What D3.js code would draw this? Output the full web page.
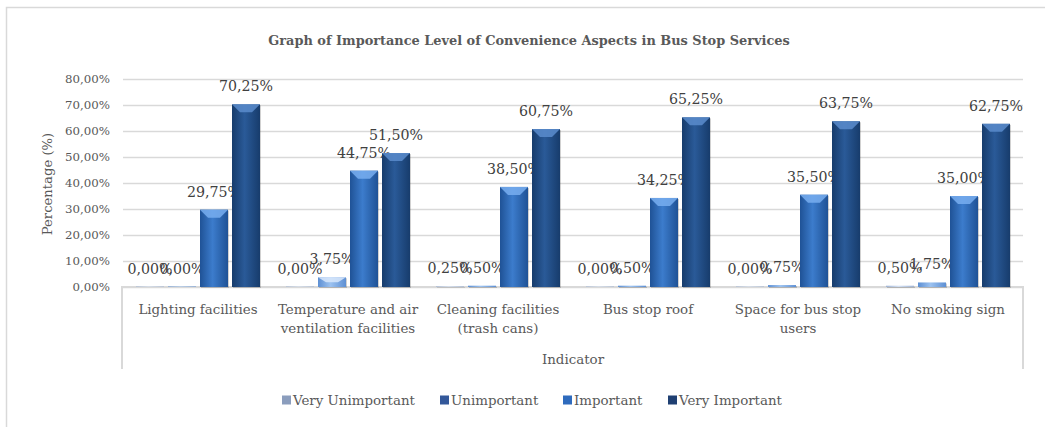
<!DOCTYPE html>
<html>
<head>
<meta charset="utf-8">
<script src="https://cdn.jsdelivr.net/npm/d3@7"></script>
<style>
    body { margin: 0; background: #fff; }
    svg { display: block; font-family: "DejaVu Serif", serif; }
</style>
</head>
<body>
<svg width="1045" height="427"></svg>
<script>
"use strict";

var title = "Graph of Importance Level of Convenience Aspects in Bus Stop Services";
var categories = [
    ["Lighting facilities"],
    ["Temperature and air", "ventilation facilities"],
    ["Cleaning facilities", "(trash cans)"],
    ["Bus stop roof"],
    ["Space for bus stop", "users"],
    ["No smoking sign"]
];
var seriesNames = ["Very Unimportant", "Unimportant", "Important", "Very Important"];
var veryUnimportant = [0.00, 0.00, 0.25, 0.00, 0.00, 0.50];
var unimportant = [0.00, 3.75, 0.50, 0.50, 0.75, 1.75];
var important = [29.75, 44.75, 38.50, 34.25, 35.50, 35.00];
var veryImportant = [70.25, 51.50, 60.75, 65.25, 63.75, 62.75];
var yTicks = [0, 10, 20, 30, 40, 50, 60, 70, 80];

var seriesValues = [veryUnimportant, unimportant, important, veryImportant];
// edge, centre, top bevel
var palette = [
    ["#9fb3d4", "#d3e0f3", "#eef3fb"],
    ["#5d8fd3", "#9cc2f0", "#d8e8fb"],
    ["#1f5296", "#3c7ccc", "#78aef0"],
    ["#173c6c", "#2a5a98", "#5a8ccc"]
];
var legendColors = ["#8b9dbd", "#33589a", "#2f6bbd", "#1f3f72"];

var svg = d3.select("svg");
var margin = {left: 123, right: 22, top: 79, bottom: 140};
var plotW = 1045 - margin.left - margin.right;
var baseY = 287;

var fmt = function (v) {
    return v.toFixed(2).replace(".", ",") + "%";
};

var x0 = d3.scaleBand()
    .domain(d3.range(categories.length))
    .range([margin.left, margin.left + plotW])
    .paddingInner(22 / 150)
    .paddingOuter(11 / 150);
var x1 = d3.scaleBand()
    .domain(d3.range(seriesNames.length))
    .range([0, x0.bandwidth()])
    .paddingInner(0.125)
    .paddingOuter(0.0625);
var y = d3.scaleLinear()
    .domain([0, 80])
    .range([baseY, margin.top]);

// outer chart border (cut off on the right and bottom)
svg.append("path")
    .attr("d", "M6.5,440V7.5H1060")
    .attr("fill", "none")
    .attr("stroke", "#d9d9d9")
    .attr("stroke-width", 1.5);

svg.append("text")
    .attr("x", 529)
    .attr("y", 45)
    .attr("text-anchor", "middle")
    .attr("font-size", 12.9)
    .attr("font-weight", "bold")
    .attr("fill", "#595959")
    .text(title);

// gradients
var defs = svg.append("defs");
palette.forEach(function (p, i) {
    var g = defs.append("linearGradient")
        .attr("id", "grad" + i)
        .attr("x1", "0").attr("x2", "1").attr("y1", "0").attr("y2", "0");
    g.append("stop").attr("offset", "0%").attr("stop-color", p[0]);
    g.append("stop").attr("offset", "45%").attr("stop-color", p[1]);
    g.append("stop").attr("offset", "100%").attr("stop-color", p[0]);
});

// y axis with grid
var yAxis = d3.axisLeft(y)
    .tickValues(yTicks)
    .tickSize(-plotW)
    .tickPadding(13)
    .tickFormat(fmt);
var yAxisGroup = svg.append("g")
    .attr("transform", "translate(" + margin.left + ",0)")
    .call(yAxis);
yAxisGroup.select(".domain").remove();
yAxisGroup.selectAll(".tick line")
    .attr("stroke", "#d9d9d9")
    .attr("stroke-width", 1.5);
yAxisGroup.selectAll(".tick text")
    .attr("fill", "#595959")
    .attr("font-size", 11.8)
    .attr("font-family", "DejaVu Serif, serif");

svg.append("text")
    .attr("transform", "translate(52," + 184 + ") rotate(-90)")
    .attr("text-anchor", "middle")
    .attr("font-size", 13.2)
    .attr("fill", "#595959")
    .text("Percentage (%)");

// category frame
svg.append("path")
    .attr("d", "M" + (margin.left - 1) + ",369V" + baseY + "H" +
            (margin.left + plotW) + "V369")
    .attr("fill", "none")
    .attr("stroke", "#d9d9d9")
    .attr("stroke-width", 2);

// bars
var groups = svg.append("g")
    .selectAll("g")
    .data(categories)
    .join("g")
    .attr("transform", function (ignore, i) {
        return "translate(" + x0(i) + ",0)";
    });

var barData = function (ignore, ci) {
    return seriesValues.map(function (vals, si) {
        return {s: si, v: vals[ci]};
    });
};

var bars = groups.selectAll("g.bar")
    .data(barData)
    .join("g")
    .attr("class", "bar");

bars.filter(function (d) { return d.v > 0; })
    .append("rect")
    .attr("x", function (d) { return x1(d.s) + 1; })
    .attr("y", function (d) { return y(d.v) + 1; })
    .attr("width", x1.bandwidth())
    .attr("height", function (d) { return baseY - y(d.v); })
    .attr("fill", "rgba(0,0,0,0.18)");

bars.append("rect")
    .attr("x", function (d) { return x1(d.s); })
    .attr("y", function (d) { return y(d.v) - (d.v > 0 ? 0 : 0.5); })
    .attr("width", x1.bandwidth())
    .attr("height", function (d) { return Math.max(baseY - y(d.v), 0.5); })
    .attr("fill", function (d) { return "url(#grad" + d.s + ")"; });

bars.filter(function (d) { return baseY - y(d.v) > 6; })
    .append("path")
    .attr("d", function (d) {
        var l = x1(d.s);
        var r = l + x1.bandwidth();
        var t = y(d.v);
        var depth = Math.min(8, (baseY - t) / 2);
        return "M" + l + "," + t + "H" + r + "L" + (r - 8) + "," +
                (t + depth) + "H" + (l + 8) + "Z";
    })
    .attr("fill", function (d) { return palette[d.s][2]; })
    .attr("opacity", 0.85);

bars.append("text")
    .attr("x", function (d) { return x1(d.s) + x1.bandwidth() / 2; })
    .attr("y", function (d) { return y(d.v) - 13; })
    .attr("text-anchor", "middle")
    .attr("font-size", 14.2)
    .attr("fill", "#404040")
    .text(function (d) { return fmt(d.v); });

// category labels
svg.append("g")
    .selectAll("text")
    .data(categories)
    .join("text")
    .attr("x", function (ignore, i) {
        return x0(i) + x0.bandwidth() / 2;
    })
    .attr("y", 314)
    .attr("text-anchor", "middle")
    .attr("font-size", 13.4)
    .attr("fill", "#595959")
    .selectAll("tspan")
    .data(function (d) { return d; })
    .join("tspan")
    .attr("x", function () {
        return d3.select(this.parentNode).attr("x");
    })
    .attr("dy", function (ignore, i) { return i === 0 ? 0 : 19; })
    .text(function (d) { return d; });

svg.append("text")
    .attr("x", margin.left + plotW / 2)
    .attr("y", 364)
    .attr("text-anchor", "middle")
    .attr("font-size", 13.4)
    .attr("fill", "#595959")
    .text("Indicator");

// legend
var legendX = [282, 440, 563, 668];
var legend = svg.append("g")
    .selectAll("g")
    .data(seriesNames)
    .join("g")
    .attr("transform", function (ignore, i) {
        return "translate(" + legendX[i] + ",400)";
    });
legend.append("rect")
    .attr("x", 0).attr("y", -4.5)
    .attr("width", 9).attr("height", 9)
    .attr("fill", function (ignore, i) { return legendColors[i]; });
legend.append("text")
    .attr("x", 11)
    .attr("y", 5)
    .attr("font-size", 13.4)
    .attr("fill", "#595959")
    .text(function (d) { return d; });
</script>
</body>
</html>
